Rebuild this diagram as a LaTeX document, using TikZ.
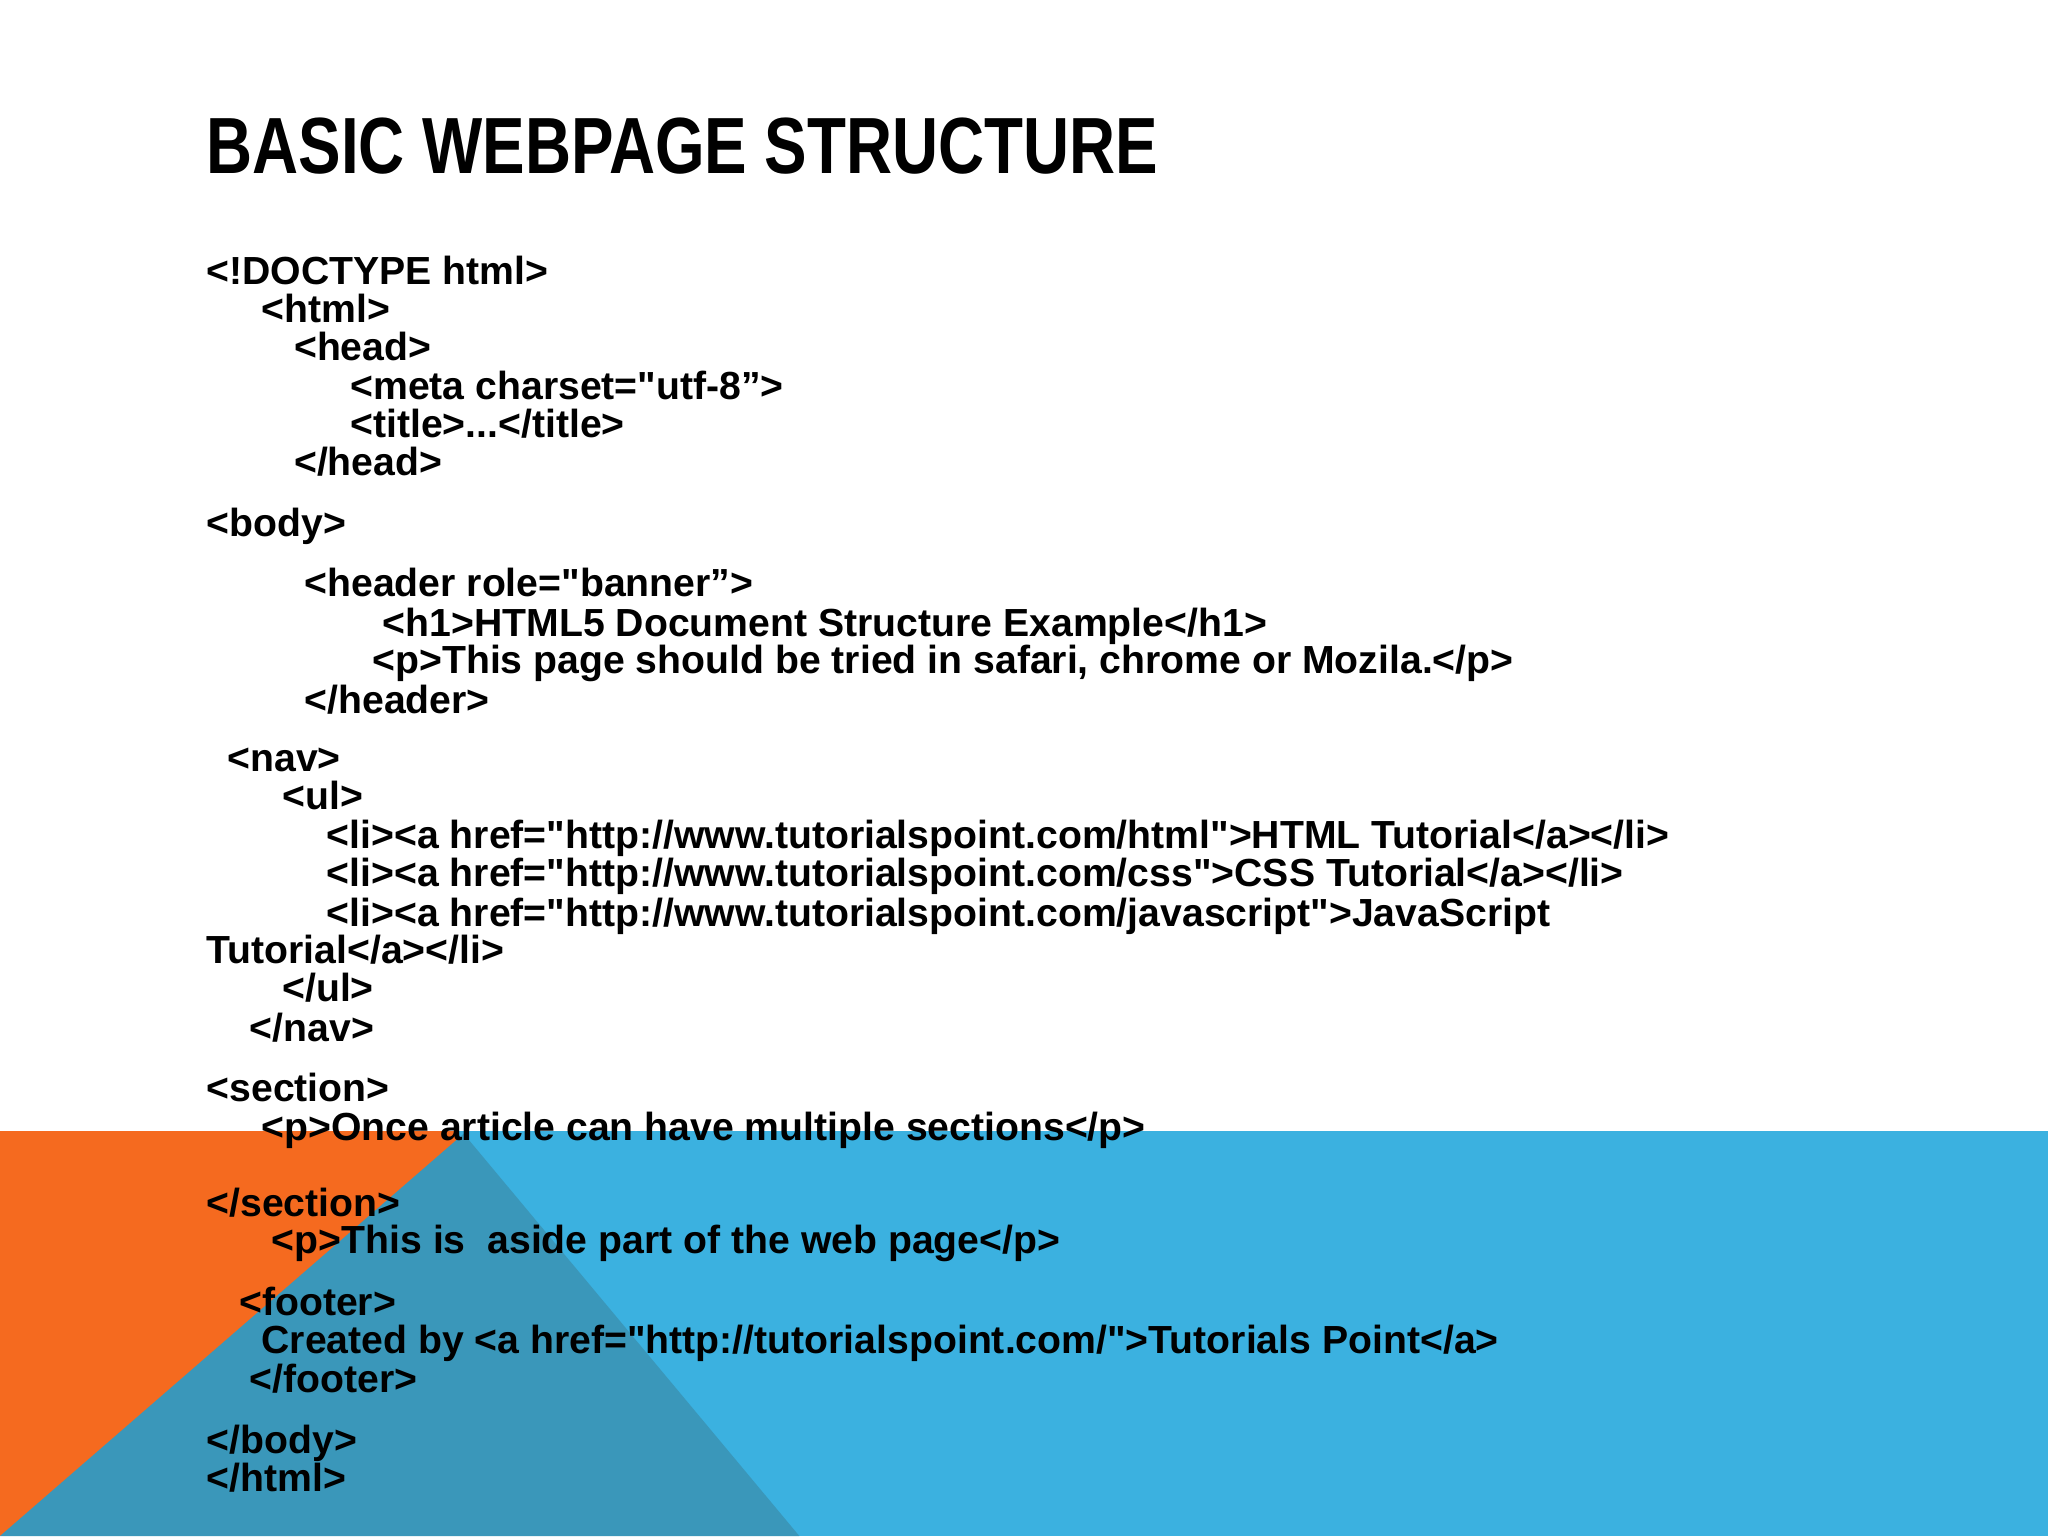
\documentclass[tikz,border=0pt]{standalone}
\usepackage{fontspec}
\setmainfont{Liberation Sans}[Ligatures=TeXOff]
\newfontfamily\titlefont[FakeStretch=0.8,Ligatures=TeXOff]{Liberation Sans}
\definecolor{orng}{HTML}{F56A1F}
\definecolor{blu}{HTML}{3BB1E0}
\definecolor{tea}{HTML}{3A97BA}
\begin{document}
\begin{tikzpicture}[x=1pt,y=-1pt,
  code/.style={anchor=base west,inner sep=0pt,font=\fontsize{30}{32}\selectfont\bfseries}]
\useasboundingbox[fill=white] (0,0) rectangle (1568,1176);
\fill[orng] (0,866) rectangle (360,1176);
\fill[blu] (350,866) rectangle (1568,1176);
\fill[tea] (0,1176) -- (355,868) -- (612,1176) -- cycle;
\node[anchor=base west,inner sep=0pt,font=\titlefont\fontsize{61}{64}\selectfont\bfseries] (title) at (158,133) {BASIC WEBPAGE STRUCTURE};
\node[code] (l1) at (158,218) {<!DOCTYPE html>};
\node[code] (l2) at (200,247) {<html>};
\node[code] (l3) at (225,276) {<head>};
\node[code] (l4) at (268,306) {<meta charset="utf-8”>};
\node[code] (l5) at (268,335) {<title>...</title>};
\node[code] (l6) at (225,364) {</head>};
\node[code] (l7) at (158,411) {<body>};
\node[code] (l8) at (233,457) {<header role="banner”>};
\node[code] (l9) at (293,487) {<h1>HTML5 Document Structure Example</h1>};
\node[code] (l10) at (285,516) {<p>This page should be tried in safari, chrome or Mozila.</p>};
\node[code] (l11) at (233,546) {</header>};
\node[code] (l12) at (174,591) {<nav>};
\node[code] (l13) at (216,620) {<ul>};
\node[code] (l14) at (250,650) {<li><a href="http://www.tutorialspoint.com/html">HTML Tutorial</a></li>};
\node[code] (l15) at (250,679) {<li><a href="http://www.tutorialspoint.com/css">CSS Tutorial</a></li>};
\node[code] (l16) at (250,709) {<li><a href="http://www.tutorialspoint.com/javascript">JavaScript};
\node[code] (l17) at (158,738) {Tutorial</a></li>};
\node[code] (l18) at (216,767) {</ul>};
\node[code] (l19) at (191,797) {</nav>};
\node[code] (l20) at (158,843) {<section>};
\node[code] (l21) at (200,873) {<p>Once article can have multiple sections</p>};
\node[code] (l22) at (158,931) {</section>};
\node[code] (l23) at (208,960) {<p>This is\ \ aside part of the web page</p>};
\node[code] (l24) at (183,1007) {<footer>};
\node[code] (l25) at (200,1036) {Created by <a href="http://tutorialspoint.com/">Tutorials Point</a>};
\node[code] (l26) at (191,1066) {</footer>};
\node[code] (l27) at (158,1113) {</body>};
\node[code] (l28) at (158,1142) {</html>};
\end{tikzpicture}
\end{document}
